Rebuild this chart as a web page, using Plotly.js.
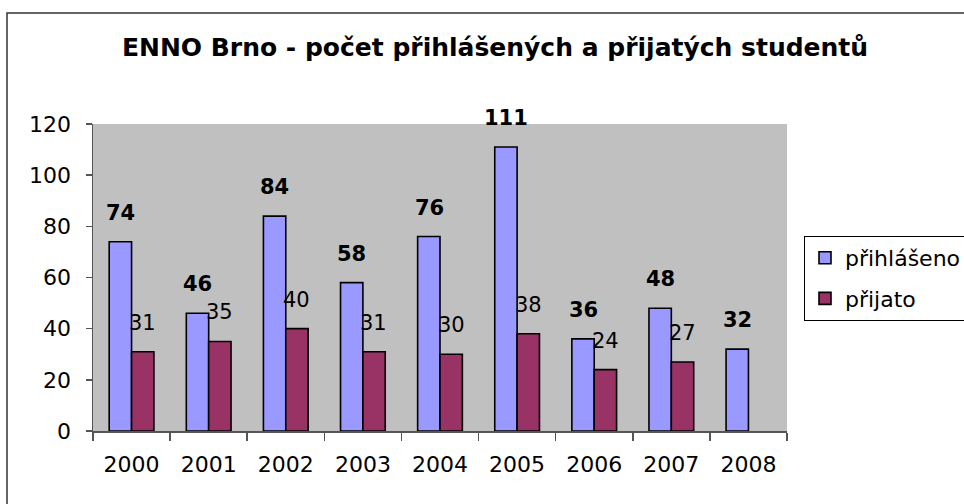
<!DOCTYPE html>
<html>
<head>
<meta charset="utf-8">
<script src="https://cdn.plot.ly/plotly-3.0.1.min.js"></script>
<style>
  html, body { margin: 0; padding: 0; background: #ffffff; }
  #chart { width: 964px; height: 504px; }
</style>
</head>
<body>
<div id="chart"></div>
<script>
const years = ['2000', '2001', '2002', '2003', '2004', '2005', '2006', '2007', '2008'];
const prihlaseno = [74, 46, 84, 58, 76, 111, 36, 48, 32];
const prijato = [31, 35, 40, 31, 30, 38, 24, 27, null];
const seriesNames = ['přihlášeno', 'přijato'];
const titleText = 'ENNO Brno - počet přihlášených a přijatých studentů';

const FONT = 'DejaVu Sans, sans-serif';

const traces = [
  {
    type: 'bar', name: seriesNames[0], x: years, y: prihlaseno,
    marker: { color: '#9999ff', line: { color: '#000000', width: 1.6 } },
    legendgroup: 'a', hoverinfo: 'skip'
  },
  {
    type: 'bar', name: seriesNames[1], x: years, y: prijato,
    marker: { color: '#993366', line: { color: '#000000', width: 1.6 } },
    legendgroup: 'b', hoverinfo: 'skip'
  }
];

const annotations = [];
years.forEach((yr, i) => {
  if (prihlaseno[i] != null) {
    annotations.push({
      x: i, y: prihlaseno[i], xref: 'x', yref: 'y', text: String(prihlaseno[i]),
      showarrow: false, xshift: -11, yshift: 29, yanchor: 'middle', xanchor: 'center',
      font: { family: FONT, size: 21, color: '#000000', weight: 'bold' }
    });
  }
  if (prijato[i] != null) {
    annotations.push({
      x: i, y: prijato[i], xref: 'x', yref: 'y', text: String(prijato[i]),
      showarrow: false, xshift: 11, yshift: 29, yanchor: 'middle', xanchor: 'center',
      font: { family: FONT, size: 21, color: '#000000' }
    });
  }
});

const layout = {
  width: 964, height: 504,
  margin: { l: 93, r: 177, t: 124, b: 73, autoexpand: false },
  paper_bgcolor: '#ffffff',
  plot_bgcolor: '#c0c0c0',
  font: { family: FONT, size: 22, color: '#000000' },
  title: {
    text: '<b>' + titleText + '</b>',
    font: { family: FONT, size: 25, color: '#000000' },
    xref: 'container', yref: 'container',
    x: 495 / 964, xanchor: 'center',
    y: 1 - 47 / 504, yanchor: 'middle'
  },
  barmode: 'group',
  bargap: 0.42,
  bargroupgap: 0,
  xaxis: {
    type: 'category',
    range: [-0.5, years.length - 0.5],
    showline: true, linecolor: '#555555', linewidth: 1.5,
    ticks: 'outside', tickson: 'boundaries', ticklen: 8, tickcolor: '#555555', tickwidth: 1.5,
    ticklabelstandoff: 13,
    tickfont: { family: FONT, size: 22, color: '#000000' },
    showgrid: false, zeroline: false
  },
  yaxis: {
    range: [0, 120], dtick: 20, tick0: 0,
    showline: true, linecolor: '#555555', linewidth: 1.5,
    ticks: 'outside', ticklen: 6, tickcolor: '#555555', tickwidth: 1.5,
    ticklabelstandoff: 10,
    tickfont: { family: FONT, size: 22, color: '#000000' },
    showgrid: false, zeroline: false
  },
  showlegend: true,
  legend: {
    x: (804 - 93) / 694, xanchor: 'left',
    y: 1 - (236 - 124) / 307, yanchor: 'top',
    bgcolor: '#ffffff', bordercolor: '#000000', borderwidth: 1,
    font: { family: FONT, size: 22, color: '#000000' },
    traceorder: 'grouped', tracegroupgap: 9
  },
  shapes: [
    {
      type: 'rect', xref: 'paper', yref: 'paper',
      x0: (7 - 93) / 694, x1: 1.4,
      y0: -0.4, y1: 1 + (124 - 13) / 307,
      line: { color: '#333333', width: 1.5 }, fillcolor: 'rgba(0,0,0,0)', layer: 'below'
    }
  ],
  annotations: annotations
};

Plotly.newPlot('chart', traces, layout, { staticPlot: true, displayModeBar: false });
</script>
</body>
</html>
